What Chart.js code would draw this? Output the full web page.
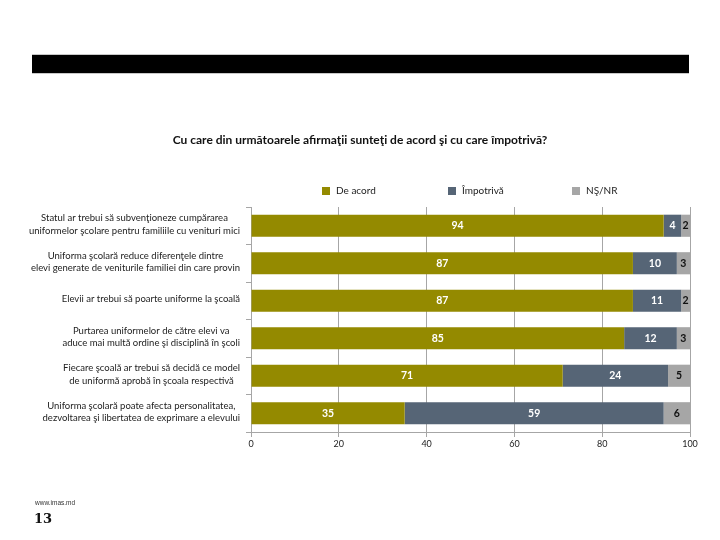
<!DOCTYPE html>
<html>
<head>
<meta charset="utf-8">
<script src="https://cdn.jsdelivr.net/npm/chart.js@4.4.1/dist/chart.umd.min.js"></script>
<style>
  html,body{margin:0;padding:0;background:#fff;}
  #wrap{position:relative;width:720px;height:540px;}
  #c{position:absolute;left:0;top:0;}
  .topbar{position:absolute;left:32px;top:54px;width:657px;height:18px;background:#000;border-top:1px solid #c8c8c8;border-bottom:1px solid #c8c8c8;}
  .site{position:absolute;left:35px;top:499px;font-family:"Liberation Sans",Arial,sans-serif;font-size:6.5px;color:#333;}
  .page{position:absolute;left:34px;top:511px;font-family:"DejaVu Serif","Liberation Serif",serif;font-weight:bold;font-size:13px;color:#111;}
</style>
</head>
<body>
<div id="wrap">
  <canvas id="c" width="720" height="540"></canvas>
  <div class="topbar"></div>
  <div class="site">www.imas.md</div>
  <div class="page">13</div>
</div>
<script>
const titleText = "Cu care din următoarele afirmaţii sunteţi de acord şi cu care împotrivă?";
const categories = [
  ["Statul ar trebui să subvenţioneze cumpărarea", "uniformelor şcolare pentru familiile cu venituri mici"],
  ["Uniforma şcolară reduce diferenţele dintre", "elevi generate de veniturile familiei din care provin"],
  ["Elevii ar trebui să poarte uniforme la şcoală"],
  ["Purtarea uniformelor de către elevi va", "aduce mai multă ordine şi disciplină în şcoli"],
  ["Fiecare şcoală ar trebui să decidă ce model", "de uniformă aprobă în şcoala respectivă"],
  ["Uniforma şcolară poate afecta personalitatea,", "dezvoltarea şi libertatea de exprimare a elevului"]
];
const seriesNames = ["De acord", "Împotrivă", "NŞ/NR"];
const deAcord = [94, 87, 87, 85, 71, 35];
const impotriva = [4, 10, 11, 12, 24, 59];
const nsnr = [2, 3, 2, 3, 5, 6];
const xTicks = [0, 20, 40, 60, 80, 100];

const colors = ["#948A00", "#566576", "#A6A6A6"];
const labelColors = ["#ffffff", "#ffffff", "#111111"];
const FONT = "Lato, 'Open Sans', sans-serif";

const pagePlugin = {
  id: 'pagePlugin',
  afterDraw(chart) {
    const ctx = chart.ctx;
    const area = chart.chartArea;
    ctx.save();
    // title
    ctx.fillStyle = '#111';
    ctx.font = "bold 12px " + FONT;
    ctx.textAlign = 'center';
    ctx.textBaseline = 'middle';
    ctx.fillText(titleText, 360, 140);
    // legend
    const legendX = [322, 448, 572];
    ctx.font = "10px " + FONT;
    ctx.textAlign = 'left';
    chart.data.datasets.forEach((ds, i) => {
      ctx.fillStyle = ds.backgroundColor;
      ctx.fillRect(legendX[i], 187, 8, 8);
      ctx.fillStyle = '#222';
      ctx.fillText(ds.label, legendX[i] + 14, 191);
    });
    // category labels
    const ys = chart.scales.y;
    ctx.font = "9.5px " + FONT;
    ctx.fillStyle = '#222';
    ctx.textAlign = 'center';
    const right = area.left - 11;
    categories.forEach((lines, i) => {
      const yc = ys.getPixelForTick(i) - 1.5;
      let w = 0;
      lines.forEach(l => { w = Math.max(w, ctx.measureText(l).width); });
      const cx = right - w / 2;
      const lh = 12.5;
      const y0 = yc - (lines.length - 1) * lh / 2;
      lines.forEach((l, k) => ctx.fillText(l, cx, y0 + k * lh));
    });
    // data labels
    ctx.font = "bold 10.5px " + FONT;
    chart.data.datasets.forEach((ds, di) => {
      const meta = chart.getDatasetMeta(di);
      meta.data.forEach((el, j) => {
        const x = (el.x + el.base) / 2;
        ctx.fillStyle = labelColors[di];
        ctx.fillText(String(ds.data[j]), x, el.y);
      });
    });
    ctx.restore();
  }
};

new Chart(document.getElementById('c'), {
  type: 'bar',
  data: {
    labels: categories,
    datasets: [
      { label: seriesNames[0], data: deAcord, backgroundColor: colors[0] },
      { label: seriesNames[1], data: impotriva, backgroundColor: colors[1] },
      { label: seriesNames[2], data: nsnr, backgroundColor: colors[2] }
    ]
  },
  options: {
    indexAxis: 'y',
    responsive: false,
    animation: false,
    devicePixelRatio: 1,
    layout: { padding: { left: 0, right: 30, top: 207, bottom: 88 } },
    datasets: { bar: { categoryPercentage: 1, barPercentage: 0.59, borderWidth: 0 } },
    plugins: { legend: { display: false }, title: { display: false }, tooltip: { enabled: false } },
    scales: {
      x: {
        stacked: true,
        min: 0, max: 100,
        afterBuildTicks(scale) { scale.ticks = xTicks.map(v => ({ value: v })); },
        afterFit(scale) { scale.height = 20; },
        grid: { color: '#A6A6A6', lineWidth: 1, tickLength: 5, drawTicks: true },
        border: { color: '#A6A6A6' },
        ticks: { font: { family: FONT, size: 9 }, color: '#222', padding: 2, maxRotation: 0 }
      },
      y: {
        stacked: true,
        afterFit(scale) { scale.width = 251; },
        grid: { offset: true, drawOnChartArea: false, color: '#A6A6A6', tickLength: 5 },
        border: { color: '#A6A6A6' },
        ticks: { color: 'rgba(0,0,0,0)', font: { family: FONT, size: 9 } }
      }
    }
  },
  plugins: [pagePlugin]
});
</script>
</body>
</html>
